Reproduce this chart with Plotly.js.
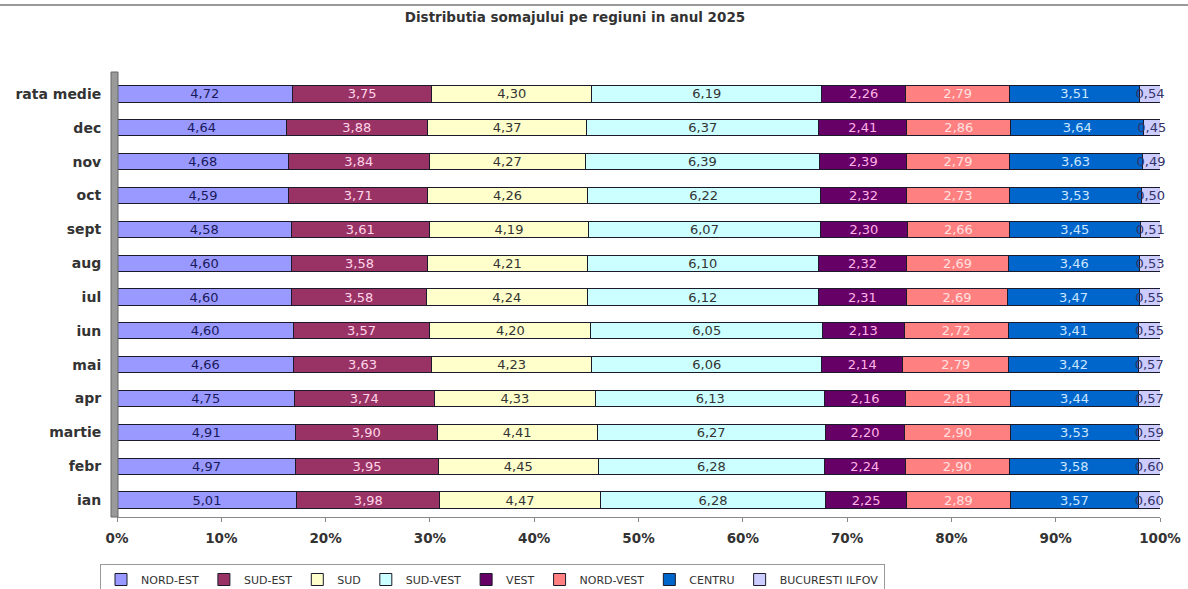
<!DOCTYPE html>
<html>
<head>
<meta charset="utf-8">
<script src="https://cdn.plot.ly/plotly-3.0.1.min.js"></script>
<style>html,body{margin:0;padding:0;background:#fff;}#chart{width:1188px;height:589px;}</style>
</head>
<body>
<div id="chart"></div>
<script>
const categories = ["rata medie","dec","nov","oct","sept","aug","iul","iun","mai","apr","martie","febr","ian"];
const nordEst   = [4.72,4.64,4.68,4.59,4.58,4.60,4.60,4.60,4.66,4.75,4.91,4.97,5.01];
const sudEst    = [3.75,3.88,3.84,3.71,3.61,3.58,3.58,3.57,3.63,3.74,3.90,3.95,3.98];
const sud       = [4.30,4.37,4.27,4.26,4.19,4.21,4.24,4.20,4.23,4.33,4.41,4.45,4.47];
const sudVest   = [6.19,6.37,6.39,6.22,6.07,6.10,6.12,6.05,6.06,6.13,6.27,6.28,6.28];
const vest      = [2.26,2.41,2.39,2.32,2.30,2.32,2.31,2.13,2.14,2.16,2.20,2.24,2.25];
const nordVest  = [2.79,2.86,2.79,2.73,2.66,2.69,2.69,2.72,2.79,2.81,2.90,2.90,2.89];
const centru    = [3.51,3.64,3.63,3.53,3.45,3.46,3.47,3.41,3.42,3.44,3.53,3.58,3.57];
const bucuresti = [0.54,0.45,0.49,0.50,0.51,0.53,0.55,0.55,0.57,0.57,0.59,0.60,0.60];
const xTicks = [0,10,20,30,40,50,60,70,80,90,100];

const series = [
  {name:"NORD-EST", vals:nordEst, color:"#9999FF", tc:"#1a1a5a"},
  {name:"SUD-EST", vals:sudEst, color:"#993366", tc:"#FFD6E8"},
  {name:"SUD", vals:sud, color:"#FFFFCC", tc:"#333333"},
  {name:"SUD-VEST", vals:sudVest, color:"#CCFFFF", tc:"#333333"},
  {name:"VEST", vals:vest, color:"#660066", tc:"#FFB3E6"},
  {name:"NORD-VEST", vals:nordVest, color:"#FF8080", tc:"#FFE0E0"},
  {name:"CENTRU", vals:centru, color:"#0066CC", tc:"#CCE6FF"},
  {name:"BUCURESTI ILFOV", vals:bucuresti, color:"#CCCCFF", tc:"#333366"}
];

const fmt = v => v.toFixed(2).replace('.', ',');

const traces = series.map(s => ({
  type:"bar", orientation:"h", name:s.name,
  x:s.vals, y:categories,
  text:s.vals.map(fmt), textposition:"inside", insidetextanchor:"middle",
  textangle:0, textfont:{family:"DejaVu Sans", size:13, color:s.tc},
  cliponaxis:false,
  marker:{color:s.color, line:{color:"#1a1a2a", width:1}},
  hoverinfo:"name+text"
}));

const L = 117, R = 1160, T = 77, B = 517;
const px = v => (v - L) / (R - L);
const py = v => (B - v) / (B - T);

const layout = {
  width:1188, height:589,
  paper_bgcolor:"#fff", plot_bgcolor:"#fff",
  margin:{l:L, r:1188-R, t:T, b:589-B, autoexpand:false},
  barmode:"stack", barnorm:"percent", bargap:0.52,
  uniformtext:{minsize:13, mode:"show"},
  title:{text:"<b>Distributia somajului pe regiuni in anul 2025</b>", x:0.484, xanchor:"center", y:0.978, yanchor:"top", font:{family:"DejaVu Sans", size:13.5, color:"#333"}},
  font:{family:"DejaVu Sans", color:"#222"},
  xaxis:{range:[0,100], tickvals:xTicks, ticktext:xTicks.map(t=>"<b>"+t+"%</b>"), showgrid:false, zeroline:false,
         showline:true, linecolor:"#888", linewidth:1, ticks:"outside", ticklen:4, tickcolor:"#888",
         ticklabelstandoff:5,
         tickfont:{family:"DejaVu Sans", size:13.5, color:"#333"}, fixedrange:true},
  yaxis:{categoryorder:"array", categoryarray:categories, autorange:"reversed", showgrid:false, zeroline:false,
         showline:false, ticks:"outside", ticklen:4, tickcolor:"#888", ticklabelstandoff:8,
         ticktext:categories.map(c=>"<b>"+c+"</b>"), tickvals:categories,
         tickfont:{family:"DejaVu Sans", size:14, color:"#333"}, fixedrange:true},
  showlegend:true,
  legend:{orientation:"h", x:px(100), xanchor:"left", y:py(564), yanchor:"top",
          bordercolor:"#999", borderwidth:1, bgcolor:"#fff",
          font:{family:"DejaVu Sans", size:11, color:"#333"}, traceorder:"normal",
          itemwidth:30, tracegroupgap:0},
  shapes:[
    {type:"line", xref:"paper", yref:"paper", x0:px(0), x1:px(1188), y0:py(5), y1:py(5), line:{color:"#999", width:2}},
    {type:"rect", xref:"paper", yref:"paper", x0:px(111), x1:px(118), y0:py(517), y1:py(72), fillcolor:"#9a9a9a", line:{color:"#666", width:1}}
  ]
};

Plotly.newPlot("chart", traces, layout, {displayModeBar:false, staticPlot:true});
</script>
</body>
</html>
